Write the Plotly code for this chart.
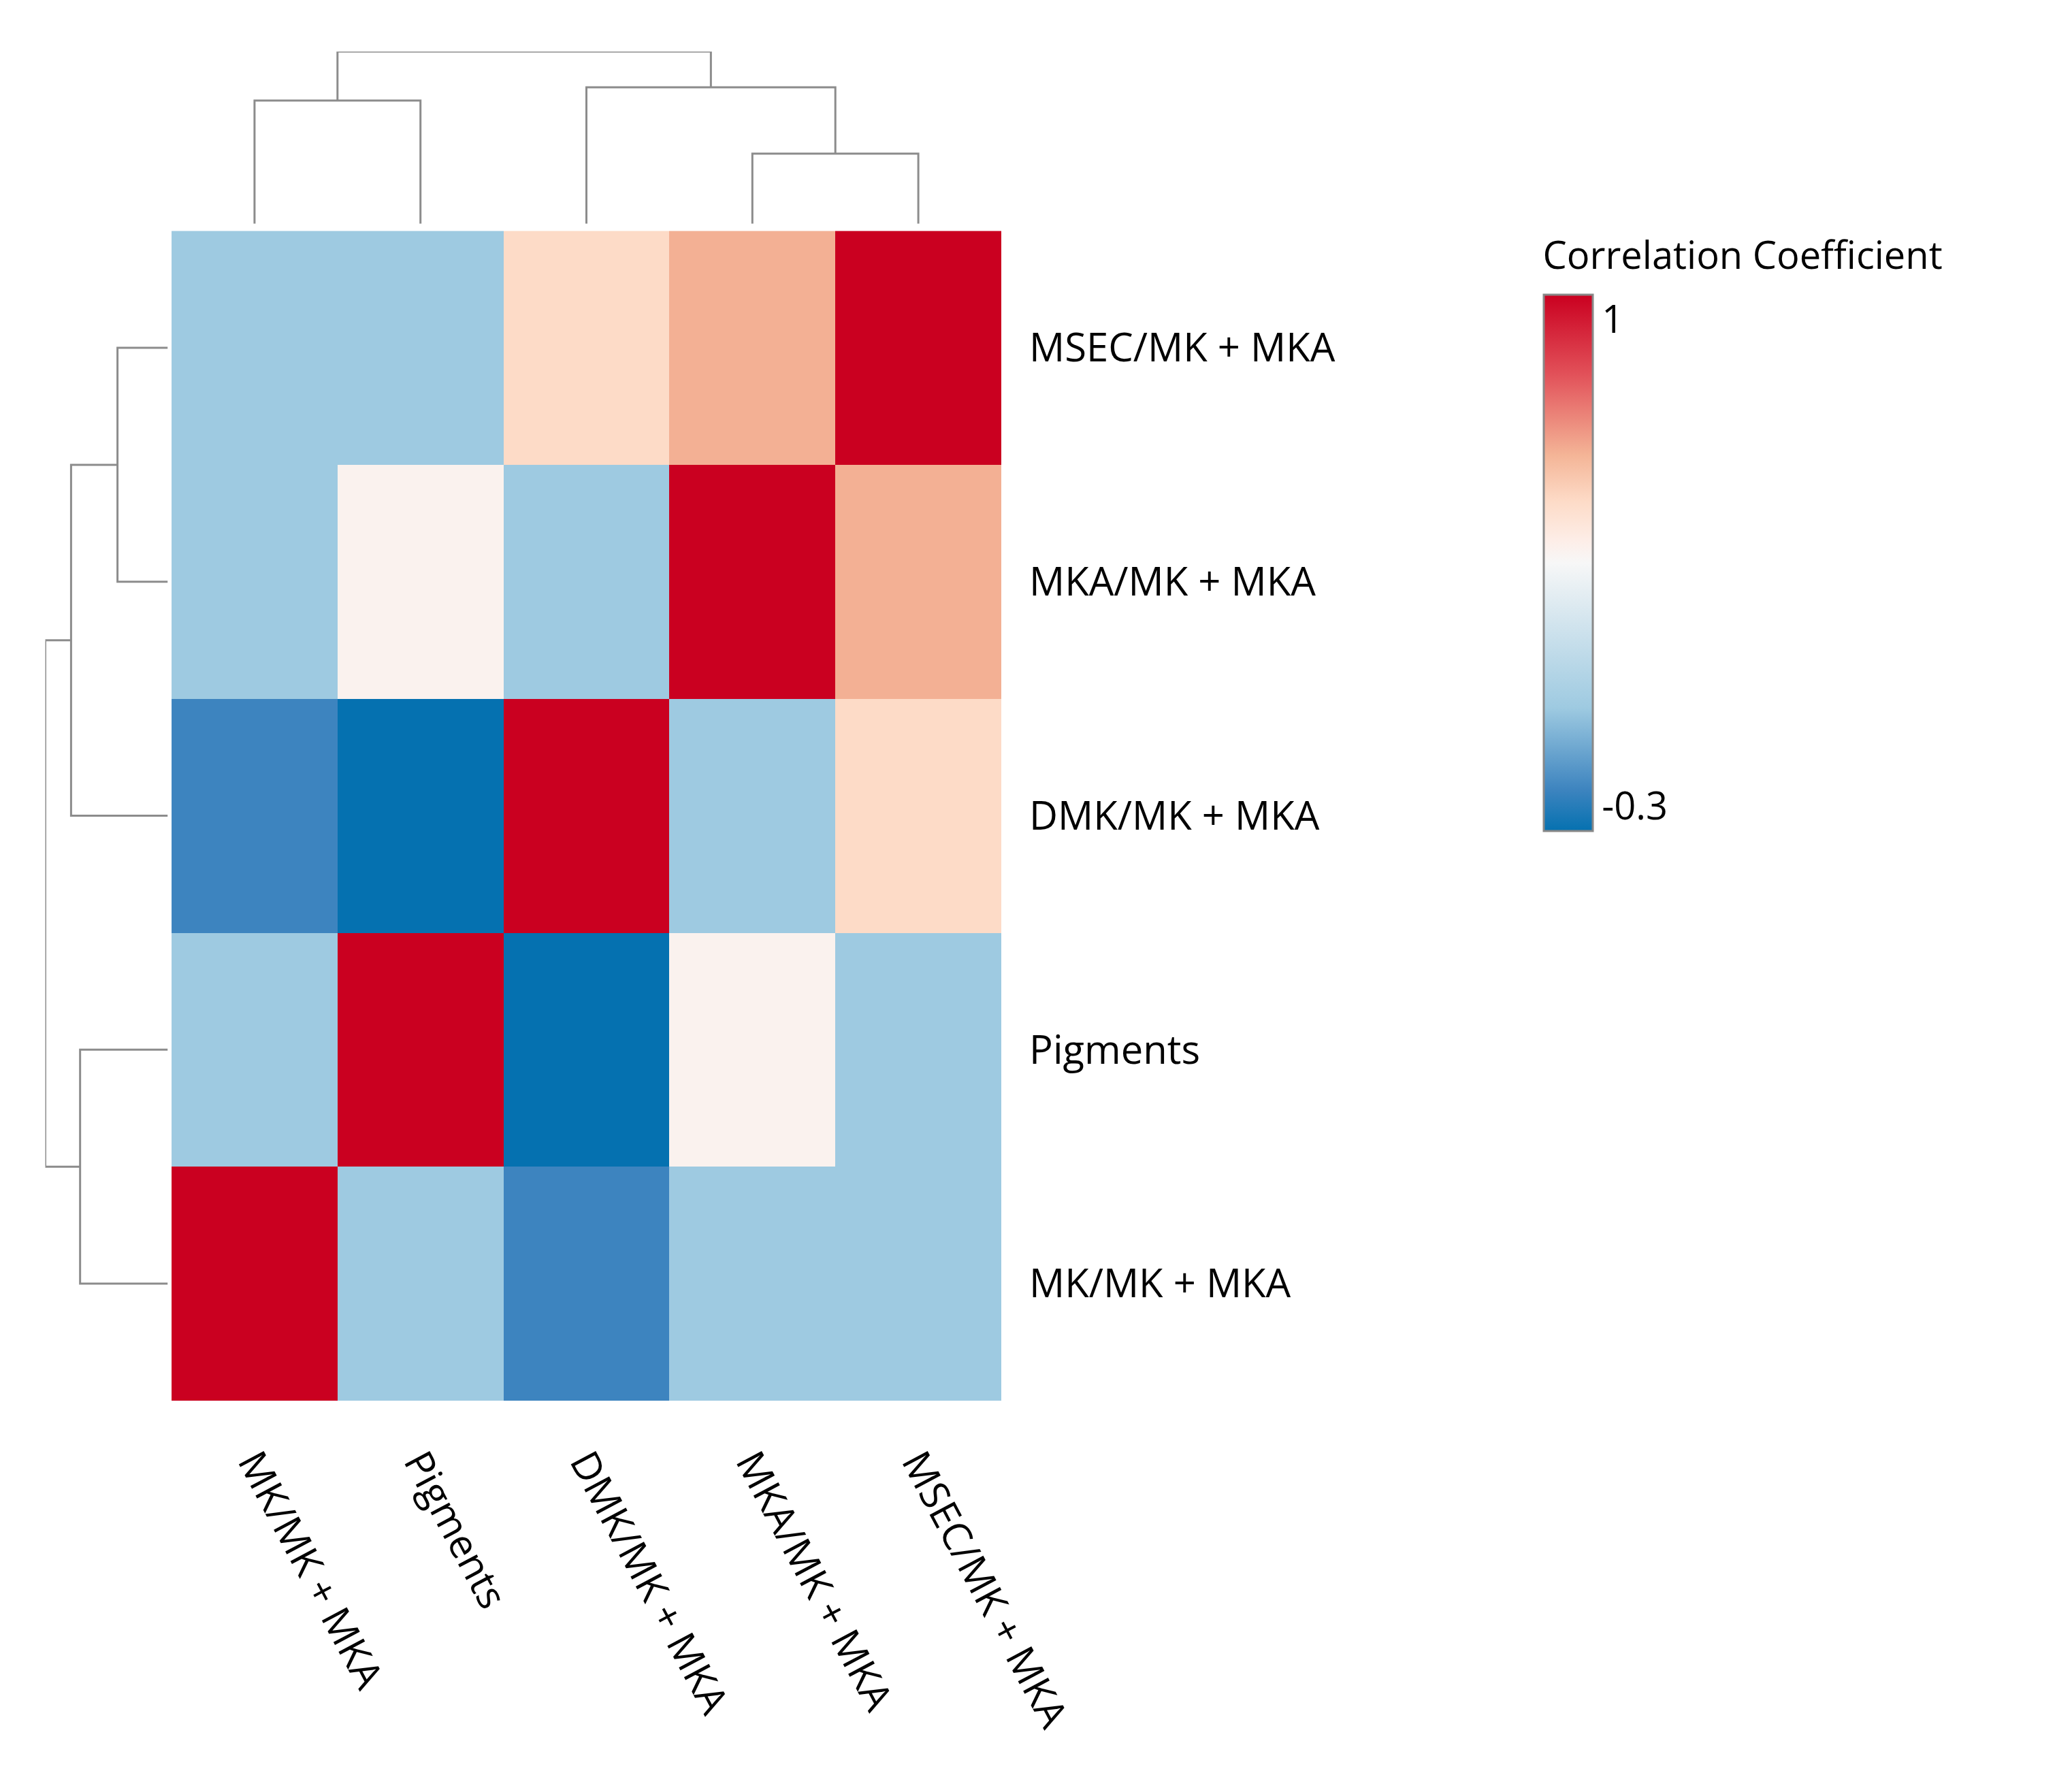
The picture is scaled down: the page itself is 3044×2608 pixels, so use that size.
import plotly.graph_objects as go

labels = ["MK/MK + MKA", "Pigments", "DMK/MK + MKA", "MKA/MK + MKA", "MSEC/MK + MKA"]
# rows bottom->top in same order as columns
z = [
    [1.0, 0.0, -0.2, 0.0, 0.0],    # MK
    [0.0, 1.0, -0.3, 0.38, 0.0],   # Pigments
    [-0.2, -0.3, 1.0, 0.0, 0.5],   # DMK
    [0.0, 0.38, 0.0, 1.0, 0.62],   # MKA
    [0.0, 0.0, 0.5, 0.62, 1.0],    # MSEC
]
# dendrogram merges: (child_a, child_b, height); leaves 0..4, new nodes 5,6,...
top_merges = [(3, 4, 53), (0, 1, 93), (2, 5, 103), (6, 7, 130)]
left_merges = [(3, 4, 39), (0, 1, 68), (2, 5, 75), (6, 7, 95)]

def dendro_lines(merges):
    pos = {i: (float(i), 0.0) for i in range(5)}
    xs, ys = [], []
    nid = 5
    for a, b, h in merges:
        pa, ha = pos[a]; pb, hb = pos[b]
        xs += [pa, pa, pb, pb, None]
        ys += [ha, h, h, hb, None]
        pos[nid] = ((pa + pb) / 2, h)
        nid += 1
    return xs, ys

colorscale = [
    [0.0, "#0571b0"], [0.077, "#3d84bf"], [0.23, "#9ecae1"],
    [0.5, "#f7f7f7"], [0.54, "#fdeee8"], [0.615, "#fddbc7"],
    [0.70, "#f4b597"], [0.85, "#e2525a"], [1.0, "#ca0020"],
]

fig = go.Figure()
fig.add_trace(go.Heatmap(
    z=z, x=list(range(5)), y=list(range(5)), zmin=-0.3, zmax=1,
    colorscale=colorscale, xaxis="x", yaxis="y",
    colorbar=dict(
        x=0.769, xanchor="left", y=0.872, yanchor="top", len=0.341, lenmode="fraction",
        thickness=72, outlinecolor="#888", outlinewidth=3,
        tickvals=[0.94, -0.24], ticktext=["1", "-0.3"], ticks="",
        tickfont=dict(size=56, color="black"),
        title=dict(text="Correlation Coefficient", side="top", font=dict(size=56, color="black")),
    ),
))
tx, ty = dendro_lines(top_merges)
fig.add_trace(go.Scatter(x=tx, y=ty, mode="lines", line=dict(color="#8c8c8c", width=3),
                         xaxis="x2", yaxis="y2", showlegend=False, hoverinfo="skip"))
ly, lx = dendro_lines(left_merges)
fig.add_trace(go.Scatter(x=lx, y=ly, mode="lines", line=dict(color="#8c8c8c", width=3),
                         xaxis="x3", yaxis="y3", showlegend=False, hoverinfo="skip"))

font = dict(family="Open Sans, sans-serif", size=58, color="black")
fig.update_layout(
    width=3044, height=2608, margin=dict(l=0, r=0, t=0, b=0),
    paper_bgcolor="white", plot_bgcolor="white", font=font, showlegend=False,
    xaxis=dict(domain=[0.0834, 0.5], range=[-0.5, 4.5], tickvals=list(range(5)), ticktext=labels,
               tickangle=62, showgrid=False, zeroline=False, showline=False, ticks="",
               ticklabelstandoff=45, tickfont=font),
    yaxis=dict(domain=[0.214, 0.873], range=[-0.5, 4.5], tickvals=list(range(5)), ticktext=labels,
               side="right", showgrid=False, zeroline=False, showline=False, ticks="",
               ticklabelstandoff=40, tickfont=font),
    xaxis2=dict(domain=[0.0834, 0.5], range=[-0.5, 4.5], visible=False, anchor="y2"),
    yaxis2=dict(domain=[0.877, 0.974], range=[0, 130], visible=False, anchor="x2"),
    xaxis3=dict(domain=[0.020, 0.0815], range=[95, 0], visible=False, anchor="y3"),
    yaxis3=dict(domain=[0.214, 0.873], range=[-0.5, 4.5], visible=False, anchor="x3"),
)
fig.write_html("out.html")
